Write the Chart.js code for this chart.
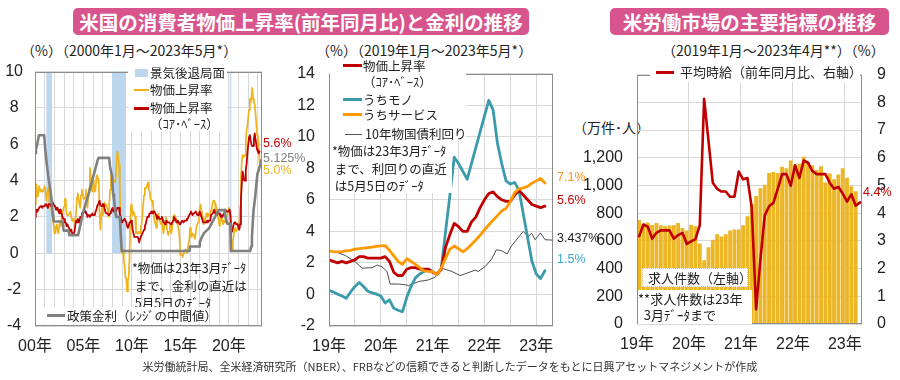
<!DOCTYPE html>
<html lang="ja">
<head>
<meta charset="utf-8">
<script src="https://cdn.jsdelivr.net/npm/chart.js@4.4.0/dist/chart.umd.min.js"></script>
<style>
  body { margin: 0; width: 900px; height: 380px; background: #fff; position: relative; overflow: hidden;
         font-family: 'Noto Sans CJK JP', sans-serif; color: #222; }
  .abs { position: absolute; white-space: nowrap; }
  .banner { position: absolute; top: 8px; height: 27px; background: #d8548c; border-radius: 5px; color: #fff;
            font-weight: 700; font-size: 19.5px; display: flex; align-items: center; justify-content: center; }
  .sub { font-size: 14px; line-height: 16px; }
  .lg { font-size: 12.5px; line-height: 15px; }
  .num { font-family: 'Liberation Sans', Arial, sans-serif; font-size: 12.5px; line-height: 14px; }
  .wbox { position: absolute; background: #fff; }
  .swatch { position: absolute; }
  .cv { position: absolute; }
</style>
</head>
<body>

<!-- ─── Titles ──────────────────────────────────────────────────────────── -->
<div class="banner" style="left:73px;width:456px;">米国の消費者物価上昇率(前年同月比)と金利の推移</div>
<div class="banner" style="left:610px;width:279px;">米労働市場の主要指標の推移</div>

<div class="abs sub" style="left:21px;top:42px;">（%）（2000年1月～2023年5月*）</div>
<div class="abs sub" style="left:316px;top:42px;">（%）（2019年1月～2023年5月*）</div>
<div class="abs sub" style="left:662px;top:42px;">（2019年1月～2023年4月**）（%）</div>
<div class="abs sub" style="left:573px;top:119px;">（万件･人）</div>

<!-- ─── Canvases ────────────────────────────────────────────────────────── -->
<div class="cv" style="left:0;top:50px;"><canvas id="cpiLong" width="300" height="310"></canvas></div>
<div class="cv" style="left:290px;top:50px;"><canvas id="cpiRecent" width="275" height="310"></canvas></div>
<div class="cv" style="left:575px;top:50px;"><canvas id="labour" width="325" height="310"></canvas></div>

<!-- ─── Left legend / notes ─────────────────────────────────────────────── -->
<div class="wbox" style="left:128px;top:61px;width:99px;height:70px;"></div>
<div class="swatch" style="left:135px;top:69px;width:13px;height:8px;background:#bdd7ee;"></div>
<div class="abs lg" style="left:150px;top:65px;">景気後退局面</div>
<div class="swatch" style="left:134px;top:89px;width:15px;height:2px;background:#efb31c;"></div>
<div class="abs lg" style="left:150px;top:82px;">物価上昇率</div>
<div class="swatch" style="left:134px;top:107px;width:15px;height:3px;background:#c00000;"></div>
<div class="abs lg" style="left:150px;top:100px;">物価上昇率</div>
<div class="abs lg" style="left:150px;top:116px;">（ｺｱ･ﾍﾞｰｽ）</div>

<div class="abs lg" style="left:132px;top:259px;line-height:17.5px;">*物価は23年3月ﾃﾞｰﾀ<br>&nbsp;まで、金利の直近は<br>&nbsp;5月5日のﾃﾞｰﾀ</div>

<div class="wbox" style="left:44px;top:307px;width:163px;height:17px;"></div>
<div class="swatch" style="left:47px;top:314px;width:18px;height:3px;background:#808080;"></div>
<div class="abs lg" style="left:67px;top:308px;">政策金利（ﾚﾝｼﾞの中間値）</div>

<div class="abs num" style="left:263px;top:136px;color:#c00000;">5.6%</div>
<div class="abs num" style="left:263px;top:151px;color:#808080;">5.125%</div>
<div class="abs num" style="left:263px;top:163px;color:#efb31c;">5.0%</div>

<!-- ─── Middle legend / notes ───────────────────────────────────────────── -->
<div class="wbox" style="left:330px;top:61px;width:136px;height:80px;"></div>
<div class="wbox" style="left:330px;top:141px;width:122px;height:52px;"></div>
<div class="swatch" style="left:343px;top:64px;width:19px;height:3px;background:#c00000;"></div>
<div class="abs lg" style="left:363px;top:58px;">物価上昇率</div>
<div class="abs lg" style="left:363px;top:74px;">（ｺｱ･ﾍﾞｰｽ）</div>
<div class="swatch" style="left:343px;top:98px;width:19px;height:3px;background:#3b9aab;"></div>
<div class="abs lg" style="left:363px;top:92px;">うちモノ</div>
<div class="swatch" style="left:343px;top:113px;width:19px;height:3px;background:#ff9900;"></div>
<div class="abs lg" style="left:363px;top:107px;">うちサービス</div>
<div class="swatch" style="left:345px;top:134px;width:17px;height:1px;background:#555;"></div>
<div class="abs lg" style="left:365px;top:126px;">10年物国債利回り</div>
<div class="abs lg" style="left:332px;top:142px;line-height:17.5px;">*物価は23年3月ﾃﾞｰﾀ<br>&nbsp;まで、利回りの直近<br>&nbsp;は5月5日のﾃﾞｰﾀ</div>

<div class="abs num" style="left:557px;top:170px;color:#ff9020;">7.1%</div>
<div class="abs num" style="left:557px;top:193px;color:#c00000;">5.6%</div>
<div class="abs num" style="left:557px;top:231px;color:#222;">3.437%</div>
<div class="abs num" style="left:557px;top:252px;color:#3aa8c8;">1.5%</div>

<!-- ─── Right legend / notes ────────────────────────────────────────────── -->
<div class="wbox" style="left:650px;top:63px;width:210px;height:19px;"></div>
<div class="swatch" style="left:656px;top:71px;width:18px;height:3px;background:#c00000;"></div>
<div class="abs lg" style="left:680px;top:64px;font-size:13px;">平均時給（前年同月比、右軸）</div>

<div class="wbox" style="left:642px;top:268px;width:106px;height:19px;border:1px dotted #e6c86e;box-sizing:border-box;"></div>
<div class="abs lg" style="left:648px;top:270px;font-size:13px;">求人件数（左軸）</div>
<div class="wbox" style="left:638px;top:290px;width:114px;height:34px;"></div>
<div class="abs lg" style="left:638px;top:291px;line-height:16px;font-size:13px;">**求人件数は23年<br>&nbsp;&nbsp;3月ﾃﾞｰﾀまで</div>

<div class="abs num" style="left:863px;top:185px;color:#c00000;">4.4%</div>

<!-- ─── Source ──────────────────────────────────────────────────────────── -->
<div class="abs" style="left:0;width:900px;top:359px;text-align:center;font-size:11px;line-height:14px;color:#333;">米労働統計局、全米経済研究所（NBER）、FRBなどの信頼できると判断したデータをもとに日興アセットマネジメントが作成</div>

<script>
'use strict';

// ─── Data: long-run CPI & policy rate (monthly from Jan 2000) ───────────────
const cpiAll = [
  2.7, 3.2, 3.8, 3.1, 3.2, 3.7, 3.7, 3.4, 3.5, 3.4, 3.4, 3.4,   // 2000
  3.7, 3.5, 2.9, 3.3, 3.6, 3.2, 2.7, 2.7, 2.6, 2.1, 1.9, 1.6,   // 2001
  1.1, 1.1, 1.5, 1.6, 1.2, 1.1, 1.5, 1.8, 1.5, 2.0, 2.2, 2.4,   // 2002
  2.6, 3.0, 3.0, 2.2, 2.1, 2.1, 2.1, 2.2, 2.3, 2.0, 1.8, 1.9,   // 2003
  1.9, 1.7, 1.7, 2.3, 3.1, 3.3, 3.0, 2.7, 2.5, 3.2, 3.5, 3.3,   // 2004
  3.0, 3.0, 3.1, 3.5, 2.8, 2.5, 3.2, 3.6, 4.7, 4.3, 3.5, 3.4,   // 2005
  4.0, 3.6, 3.4, 3.5, 4.2, 4.3, 4.1, 3.8, 2.1, 1.3, 2.0, 2.5,   // 2006
  2.1, 2.4, 2.8, 2.6, 2.7, 2.7, 2.4, 2.0, 2.8, 3.5, 4.3, 4.1,   // 2007
  4.3, 4.0, 4.0, 3.9, 4.2, 5.0, 5.6, 5.4, 4.9, 3.7, 1.1, 0.1,   // 2008
  0.0, 0.2, -0.4, -0.7, -1.3, -1.4, -2.1, -1.5, -1.3, -0.2, 1.8, 2.7, // 2009
  2.6, 2.1, 2.3, 2.2, 2.0, 1.1, 1.2, 1.1, 1.1, 1.2, 1.1, 1.5,   // 2010
  1.6, 2.1, 2.7, 3.2, 3.6, 3.6, 3.6, 3.8, 3.9, 3.5, 3.4, 3.0,   // 2011
  2.9, 2.9, 2.7, 2.3, 1.7, 1.7, 1.4, 1.7, 2.0, 2.2, 1.8, 1.7,   // 2012
  1.6, 2.0, 1.5, 1.1, 1.4, 1.8, 2.0, 1.5, 1.2, 1.0, 1.2, 1.5,   // 2013
  1.6, 1.1, 1.5, 2.0, 2.1, 2.1, 2.0, 1.7, 1.7, 1.7, 1.3, 0.8,   // 2014
  -0.1, 0.0, -0.1, -0.2, 0.0, 0.1, 0.2, 0.2, 0.0, 0.2, 0.5, 0.7, // 2015
  1.4, 1.0, 0.9, 1.1, 1.0, 1.0, 0.8, 1.1, 1.5, 1.6, 1.7, 2.1,   // 2016
  2.5, 2.7, 2.4, 2.2, 1.9, 1.6, 1.7, 1.9, 2.2, 2.0, 2.2, 2.1,   // 2017
  2.1, 2.2, 2.4, 2.5, 2.8, 2.9, 2.9, 2.7, 2.3, 2.5, 2.2, 1.9,   // 2018
  1.6, 1.5, 1.9, 2.0, 1.8, 1.6, 1.8, 1.7, 1.7, 1.8, 2.1, 2.3,   // 2019
  2.5, 2.3, 1.5, 0.3, 0.1, 0.6, 1.0, 1.3, 1.4, 1.2, 1.2, 1.4,   // 2020
  1.4, 1.7, 2.6, 4.2, 5.0, 5.4, 5.4, 5.3, 5.4, 6.2, 6.8, 7.0,   // 2021
  7.5, 7.9, 8.5, 8.3, 8.6, 9.1, 8.5, 8.3, 8.2, 7.7, 7.1, 6.5,   // 2022
  6.4, 6.0, 5.0,                                                // 2023
];

const cpiCore = [
  2.0, 2.2, 2.4, 2.3, 2.4, 2.5, 2.5, 2.6, 2.6, 2.5, 2.6, 2.6,   // 2000
  2.6, 2.7, 2.7, 2.6, 2.5, 2.7, 2.7, 2.7, 2.6, 2.6, 2.8, 2.7,   // 2001
  2.6, 2.6, 2.4, 2.5, 2.5, 2.3, 2.2, 2.4, 2.2, 2.2, 2.0, 1.9,   // 2002
  1.9, 1.7, 1.7, 1.5, 1.6, 1.5, 1.5, 1.3, 1.2, 1.3, 1.1, 1.1,   // 2003
  1.1, 1.2, 1.6, 1.8, 1.7, 1.9, 1.8, 1.7, 2.0, 2.0, 2.2, 2.2,   // 2004
  2.3, 2.4, 2.3, 2.2, 2.2, 2.0, 2.1, 2.1, 2.0, 2.1, 2.1, 2.2,   // 2005
  2.1, 2.1, 2.1, 2.3, 2.4, 2.6, 2.7, 2.8, 2.9, 2.7, 2.6, 2.6,   // 2006
  2.7, 2.7, 2.5, 2.3, 2.2, 2.2, 2.2, 2.1, 2.1, 2.2, 2.3, 2.4,   // 2007
  2.5, 2.3, 2.4, 2.3, 2.3, 2.4, 2.5, 2.5, 2.5, 2.2, 2.0, 1.8,   // 2008
  1.7, 1.8, 1.8, 1.9, 1.8, 1.7, 1.5, 1.4, 1.5, 1.7, 1.7, 1.8,   // 2009
  1.6, 1.3, 1.1, 0.9, 0.9, 0.9, 0.9, 0.9, 0.8, 0.6, 0.8, 0.8,   // 2010
  1.0, 1.1, 1.2, 1.3, 1.5, 1.6, 1.8, 2.0, 2.0, 2.1, 2.2, 2.2,   // 2011
  2.3, 2.2, 2.3, 2.3, 2.3, 2.2, 2.1, 1.9, 2.0, 2.0, 1.9, 1.9,   // 2012
  1.9, 2.0, 1.9, 1.7, 1.7, 1.6, 1.7, 1.8, 1.7, 1.7, 1.7, 1.7,   // 2013
  1.6, 1.6, 1.7, 1.8, 2.0, 1.9, 1.9, 1.7, 1.7, 1.8, 1.7, 1.6,   // 2014
  1.6, 1.7, 1.8, 1.8, 1.7, 1.8, 1.8, 1.8, 1.9, 1.9, 2.0, 2.1,   // 2015
  2.2, 2.3, 2.2, 2.1, 2.2, 2.2, 2.2, 2.3, 2.2, 2.1, 2.1, 2.2,   // 2016
  2.3, 2.2, 2.0, 1.9, 1.7, 1.7, 1.7, 1.7, 1.7, 1.8, 1.7, 1.8,   // 2017
  1.8, 1.8, 2.1, 2.1, 2.2, 2.3, 2.4, 2.2, 2.2, 2.1, 2.2, 2.2,   // 2018
  2.2, 2.1, 2.0, 2.1, 2.0, 2.1, 2.2, 2.4, 2.4, 2.3, 2.3, 2.3,   // 2019
  2.3, 2.4, 2.1, 1.4, 1.2, 1.2, 1.6, 1.7, 1.7, 1.6, 1.6, 1.6,   // 2020
  1.4, 1.3, 1.6, 3.0, 3.8, 4.5, 4.3, 4.0, 4.0, 4.6, 4.9, 5.5,   // 2021
  6.0, 6.4, 6.5, 6.2, 6.0, 5.9, 5.9, 6.3, 6.6, 6.3, 6.0, 5.7,   // 2022
  5.6, 5.5, 5.6,                                                // 2023
];

// Policy rate (mid-point of target range): breakpoints [year, %]
const fedDates = [
  2000.0, 2000.1, 2000.2, 2000.3, 2000.4, 2000.95, 2001.05, 2001.2, 2001.35, 2001.5, 2001.7, 2001.8, 2001.95,
  2002.85, 2002.95, 2003.45, 2003.55, 2004.45, 2004.55, 2004.7, 2004.95, 2005.2, 2005.45, 2005.7, 2005.95,
  2006.2, 2006.45, 2006.55, 2007.65, 2007.75, 2007.85, 2007.95, 2008.05, 2008.15, 2008.3, 2008.4, 2008.75,
  2008.85, 2008.95, 2015.95, 2016.0, 2016.95, 2017.0, 2017.2, 2017.45, 2017.95, 2018.2, 2018.45, 2018.7,
  2018.95, 2019.55, 2019.6, 2019.7, 2019.85, 2020.15, 2020.2, 2022.2, 2022.3, 2022.38, 2022.46, 2022.55,
  2022.72, 2022.85, 2022.95, 2023.1, 2023.25, 2023.35,
];
const fedMid = [
  5.5, 5.75, 5.9, 6.2, 6.5, 6.5, 5.75, 5.0, 4.3, 3.75, 3.0, 2.3, 1.75,
  1.75, 1.25, 1.25, 1.0, 1.0, 1.25, 1.6, 2.2, 2.7, 3.1, 3.6, 4.1,
  4.6, 5.1, 5.25, 5.25, 4.75, 4.5, 4.25, 3.25, 3.0, 2.25, 2.0, 2.0,
  1.0, 0.125, 0.125, 0.375, 0.375, 0.625, 0.875, 1.125, 1.375, 1.625, 1.875, 2.125,
  2.375, 2.375, 2.125, 1.875, 1.625, 1.625, 0.125, 0.125, 0.375, 0.875, 1.625, 2.375,
  3.125, 3.875, 4.375, 4.625, 4.875, 5.125,
];

// Recession periods [start, end] in decimal years
const recessions = [[2001.17, 2001.75], [2007.95, 2009.38], [2020.1, 2020.25]];

// ─── Data: 2019– CPI breakdown (monthly from Jan 2019) ──────────────────────
const coreRecent = [
  2.2, 2.1, 2.0, 2.1, 2.0, 2.1, 2.2, 2.4, 2.4, 2.3, 2.3, 2.3,
  2.3, 2.4, 2.1, 1.4, 1.2, 1.2, 1.6, 1.7, 1.7, 1.6, 1.6, 1.6,
  1.4, 1.3, 1.6, 3.0, 3.8, 4.5, 4.3, 4.0, 4.0, 4.6, 4.9, 5.5,
  6.0, 6.4, 6.5, 6.2, 6.0, 5.9, 5.9, 6.3, 6.6, 6.3, 6.0, 5.7,
  5.6, 5.5, 5.6,
];
const goods = [
  0.26, 0.15, 0.02, -0.1, -0.24, 0.16, 0.5, 0.76, 0.5, 0.2, 0.1, 0.02,
  -0.1, -0.54, -0.34, -0.88, -1.0, -1.1, -0.2, 0.5, 1.05, 1.3, 1.45, 1.6,
  1.45, 1.26, 1.65, 4.0, 6.3, 8.7, 8.3, 7.8, 7.3, 8.3, 9.3, 10.3,
  11.3, 12.3, 11.7, 9.6, 8.3, 7.2, 7.0, 7.1, 6.6, 5.1, 3.6, 2.1,
  1.3, 1.0, 1.5,
];
const services = [
  2.77, 2.72, 2.7, 2.72, 2.77, 2.8, 2.87, 2.9, 2.93, 2.97, 3.0, 3.05,
  3.08, 3.1, 2.8, 2.45, 2.1, 1.9, 2.26, 2.1, 1.9, 1.7, 1.5, 1.46,
  1.45, 1.26, 1.66, 2.3, 2.87, 3.07, 2.9, 2.7, 2.9, 3.17, 3.45, 3.75,
  4.1, 4.4, 4.7, 5.0, 5.3, 5.45, 5.9, 6.45, 6.7, 6.75, 6.85, 7.05,
  7.2, 7.35, 7.07,
];
const yieldDates = [
  2019.0, 2019.19, 2019.32, 2019.51, 2019.64, 2019.83, 2019.93, 2020.02, 2020.12, 2020.18, 2020.34,
  2020.5, 2020.53, 2020.73, 2020.92, 2021.05, 2021.18, 2021.37, 2021.53, 2021.62, 2021.82, 2021.88,
  2022.02, 2022.14, 2022.23, 2022.33, 2022.44, 2022.52, 2022.75, 2022.84, 2022.91, 2022.98, 2023.08,
  2023.17, 2023.33,
];
const yields10y = [
  2.77, 2.63, 2.46, 2.06, 1.66, 1.7, 1.86, 1.76, 1.46, 0.66, 0.66,
  0.6, 0.55, 0.82, 0.92, 1.1, 1.66, 1.46, 1.2, 1.3, 1.54, 1.46,
  1.78, 2.26, 2.83, 2.77, 2.57, 3.07, 4.0, 3.67, 3.87, 3.47, 3.9,
  3.47, 3.44,
];

// ─── Data: labour market (monthly from Jan 2019) ────────────────────────────
const jobOpenings = [ // 万件
  748, 722, 730, 714, 726, 710, 703, 708, 710, 726, 690, 672,
  714, 703, 578, 458, 551, 605, 646, 630, 646, 673, 680, 680,
  711, 775, 865, 922, 978, 1003, 1087, 1094, 1087, 1132, 1121, 1178,
  1144, 1155, 1205, 1166, 1144, 1110, 1137, 1019, 1083, 1042, 1076, 1121,
  1053, 992, 956,
];
const hourlyWage = [ // %
  3.17, 3.59, 3.51, 3.08, 3.29, 3.38, 3.38, 3.38, 3.08, 3.21, 3.29, 2.89,
  2.98, 3.06, 3.57, 8.13, 6.63, 5.10, 4.88, 4.78, 4.78, 4.59, 4.59, 5.50,
  5.22, 5.27, 4.20, 0.53, 2.32, 3.91, 4.25, 4.37, 4.88, 5.41, 5.41, 4.99,
  5.73, 5.27, 5.90, 5.82, 5.52, 5.41, 5.41, 5.41, 5.10, 4.88, 4.95, 4.71,
  4.42, 4.68, 4.27, 4.39,
];

// ─── Shared style ───────────────────────────────────────────────────────────
const TICK_FONT = { family: "'Liberation Sans', Arial, 'Noto Sans CJK JP', sans-serif", size: 16 };
const TICK_COLOR = '#222';
const GRID = '#d9d9d9';

// ─── Helpers ────────────────────────────────────────────────────────────────
function monthly(startYear, values, offset = 0) {
  return values.map((y, i) => ({ x: startYear + (i + offset) / 12, y }));
}
function pairs(xs, ys) {
  return ys.map((y, i) => ({ x: xs[i], y }));
}
function yearLabel(step) {
  return (v) => (Math.abs(v - Math.round(v)) < 1e-6 && Math.round(v) % step === 0)
    ? String(Math.round(v) % 100).padStart(2, '0') + '年' : '';
}
// Fixed tick positions: every `step` years from `from` to `to`
function yearTicks(from, to, step) {
  return (scale) => {
    const ticks = [];
    for (let v = from; v <= to + 1e-9; v += step) ticks.push({ value: Math.round(v * 100) / 100 });
    scale.ticks = ticks;
  };
}

const framePlugin = {
  id: 'frame',
  afterDatasetsDraw(chart) {
    const { ctx, chartArea: a } = chart;
    ctx.save();
    ctx.strokeStyle = '#8c8c8c';
    ctx.lineWidth = 1;
    ctx.strokeRect(Math.round(a.left) + 0.5, Math.round(a.top) + 0.5,
                   Math.round(a.width) - 1, Math.round(a.height) - 1);
    ctx.restore();
  },
};

const recessionPlugin = {
  id: 'recessions',
  beforeDatasetsDraw(chart) {
    const { ctx, scales: { x, y } } = chart;
    const yTop = y.getPixelForValue(y.max);
    const yZero = y.getPixelForValue(0);
    ctx.save();
    ctx.fillStyle = '#bdd7ee';
    recessions.forEach(([s, e]) => {
      const x0 = x.getPixelForValue(s);
      const x1 = x.getPixelForValue(e);
      ctx.fillRect(x0, yTop, Math.max(x1 - x0, 1.2), yZero - yTop);
    });
    ctx.restore();
  },
};

const baseOptions = {
  responsive: false,
  animation: false,
  events: [],
  elements: { point: { radius: 0 }, line: { tension: 0, borderJoinStyle: 'round', borderCapStyle: 'round' } },
  plugins: { legend: { display: false }, tooltip: { enabled: false } },
};

// ─── Left: CPI & policy rate since 2000 ─────────────────────────────────────
new Chart(document.getElementById('cpiLong'), {
  type: 'line',
  data: {
    datasets: [
      { data: monthly(2000, cpiAll),  borderColor: '#efb31c', borderWidth: 1.7, order: 3 },
      { data: monthly(2000, cpiCore), borderColor: '#c00000', borderWidth: 1.8, order: 2 },
      { data: pairs(fedDates, fedMid), borderColor: '#808080', borderWidth: 2.6, order: 1 },
    ],
  },
  options: {
    ...baseOptions,
    layout: { padding: { top: 10, right: 38, left: 0, bottom: 0 } },
    scales: {
      x: {
        type: 'linear', min: 2000, max: 2023.42,
        afterBuildTicks: yearTicks(2000, 2023, 1),
        afterFit: (s) => { s.height = 34; },
        grid: { color: GRID, drawTicks: false },
        border: { display: false },
        ticks: { autoSkip: false, maxRotation: 0, padding: 11,
                 font: TICK_FONT, color: TICK_COLOR, callback: yearLabel(5) },
      },
      y: {
        min: -4, max: 10,
        afterFit: (s) => { s.width = 35; },
        grid: { color: GRID, drawTicks: false },
        border: { display: false },
        ticks: { stepSize: 2, padding: 12, crossAlign: 'center', font: TICK_FONT, color: TICK_COLOR },
      },
    },
  },
  plugins: [recessionPlugin, framePlugin],
});

// ─── Middle: CPI breakdown since 2019 ───────────────────────────────────────
new Chart(document.getElementById('cpiRecent'), {
  type: 'line',
  data: {
    datasets: [
      { data: monthly(2019, coreRecent), borderColor: '#c00000', borderWidth: 2.8, order: 2 },
      { data: monthly(2019, goods),      borderColor: '#3b9aab', borderWidth: 2.8, order: 3 },
      { data: monthly(2019, services),   borderColor: '#ff9900', borderWidth: 2.8, order: 1 },
      { data: pairs(yieldDates, yields10y), borderColor: '#3a3a3a', borderWidth: 0.9, order: 4 },
    ],
  },
  options: {
    ...baseOptions,
    layout: { padding: { top: 10, right: 11, left: 0, bottom: 0 } },
    scales: {
      x: {
        type: 'linear', min: 2019, max: 2023.33,
        afterBuildTicks: yearTicks(2019, 2023, 0.5),
        afterFit: (s) => { s.height = 34; },
        grid: { color: GRID, drawTicks: false },
        border: { display: false },
        ticks: { autoSkip: false, maxRotation: 0, padding: 11,
                 font: TICK_FONT, color: TICK_COLOR, callback: yearLabel(1) },
      },
      y: {
        min: -2, max: 14,
        afterFit: (s) => { s.width = 39; },
        grid: { color: GRID, drawTicks: false },
        border: { display: false },
        ticks: { stepSize: 2, padding: 14, font: TICK_FONT, color: TICK_COLOR },
      },
    },
  },
  plugins: [framePlugin],
});

// ─── Right: job openings & hourly earnings ──────────────────────────────────
new Chart(document.getElementById('labour'), {
  type: 'bar',
  data: {
    datasets: [
      { type: 'line', data: monthly(2019, hourlyWage, 0.5), yAxisID: 'yR',
        borderColor: '#c00000', borderWidth: 2.6, order: 1 },
      { type: 'bar', data: monthly(2019, jobOpenings, 0.5), yAxisID: 'yL',
        backgroundColor: '#ecb624', barThickness: 3.2, order: 2 },
    ],
  },
  options: {
    ...baseOptions,
    layout: { padding: { top: 9, right: 8, left: 0, bottom: 0 } },
    scales: {
      x: {
        type: 'linear', min: 2019, max: 2023.33, offset: false,
        afterBuildTicks: yearTicks(2019, 2023, 1),
        afterFit: (s) => { s.height = 36; },
        grid: { color: GRID, drawTicks: false, offset: false },
        border: { display: false },
        ticks: { autoSkip: false, maxRotation: 0, padding: 11,
                 font: TICK_FONT, color: TICK_COLOR, callback: yearLabel(1) },
      },
      yL: {
        position: 'left', min: 0, max: 1800,
        afterFit: (s) => { s.width = 62; },
        grid: { color: GRID, drawTicks: false },
        border: { display: false },
        ticks: { stepSize: 200, padding: 14, font: TICK_FONT, color: TICK_COLOR,
                 callback: (v) => (v <= 1200 ? v.toLocaleString('en-US') : '') },
      },
      yR: {
        position: 'right', min: 0, max: 9,
        afterFit: (s) => { s.width = 30; },
        grid: { display: false, drawTicks: false },
        border: { display: false },
        ticks: { stepSize: 1, padding: 15, font: TICK_FONT, color: TICK_COLOR },
      },
    },
  },
  plugins: [framePlugin],
});
</script>
</body>
</html>
